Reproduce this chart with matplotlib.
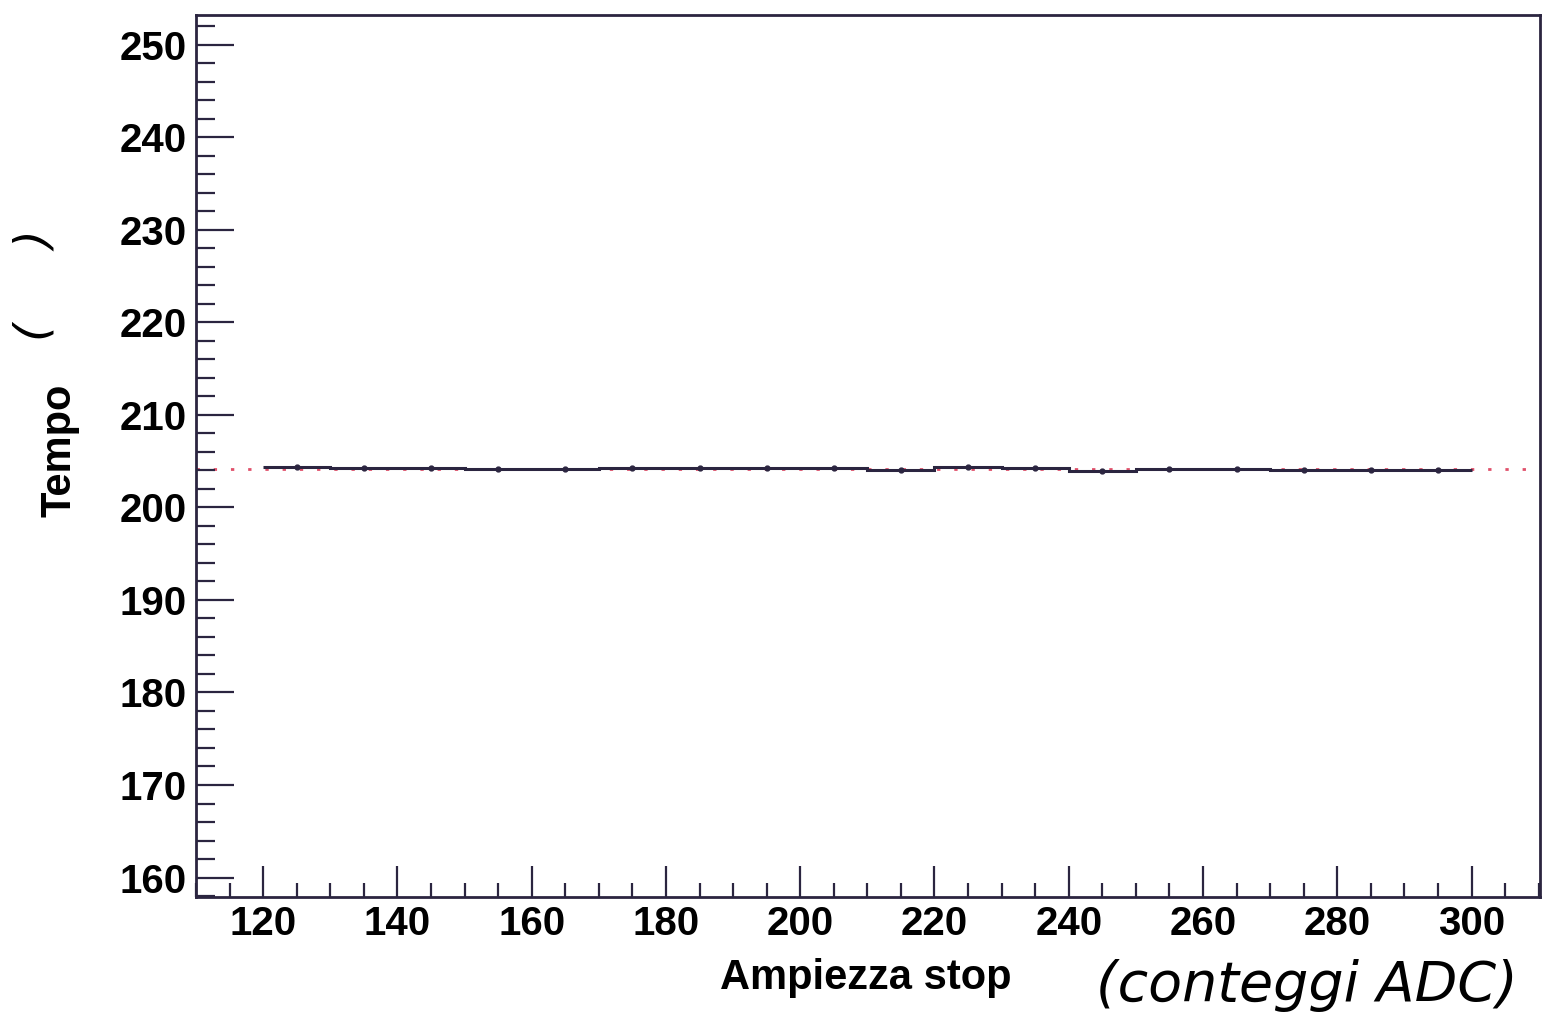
import matplotlib
matplotlib.use("Agg")
import matplotlib.pyplot as plt
from matplotlib.ticker import MultipleLocator
import numpy as np

# Data
bin_edges = [120, 130, 140, 150, 160, 170, 180, 190, 200, 210, 220, 230,
             240, 250, 260, 270, 280, 290, 300]
bin_values = [204.35, 204.2, 204.2, 204.15, 204.1, 204.2, 204.2, 204.25, 204.25,
              204.0, 204.4, 204.25, 203.95, 204.15, 204.15, 204.0, 204.05, 204.0]
bin_errors = [0.12, 0.1, 0.1, 0.1, 0.1, 0.1, 0.1, 0.1, 0.1,
              0.12, 0.12, 0.12, 0.15, 0.15, 0.15, 0.15, 0.15, 0.18]
fit_value = 204.12
x_label = "Ampiezza stop"
y_label = "Tempo"

plt.rcParams['font.family'] = ['Liberation Sans', 'DejaVu Sans']

fig = plt.figure(figsize=(15.47, 10.29), dpi=100)
ax = fig.add_axes([0.1267, 0.1283, 0.9955 - 0.1267, 0.9854 - 0.1283])

edges = np.array(bin_edges, dtype=float)
vals = np.array(bin_values)
errs = np.array(bin_errors)
centers = 0.5 * (edges[:-1] + edges[1:])

line_col = '#2b2540'
# fit line (dotted red) across the full range
ax.plot([110, 310], [fit_value, fit_value], linestyle=(0, (1.2, 5)), color='#e0506a',
        linewidth=2.0, zorder=1)
# histogram step
ax.stairs(vals, edges, baseline=None, color=line_col, linewidth=2.2, zorder=3)
ax.errorbar(centers, vals, yerr=errs, fmt='o', markersize=3.5, color=line_col,
            ecolor=line_col, elinewidth=2, capsize=0, zorder=4)

ax.set_xlim(110, 310.2)
ax.set_ylim(157.9, 253.2)

ax.xaxis.set_major_locator(MultipleLocator(20))
ax.xaxis.set_minor_locator(MultipleLocator(5))
ax.yaxis.set_major_locator(MultipleLocator(10))
ax.yaxis.set_minor_locator(MultipleLocator(2))

ax.tick_params(axis='y', which='major', direction='in', length=27, width=1.6,
               labelsize=29, pad=7, color='#2b2540', right=False)
ax.tick_params(axis='y', which='minor', direction='in', length=14, width=1.6,
               color='#2b2540', right=False)
ax.tick_params(axis='x', which='major', direction='in', length=22, width=1.6,
               labelsize=29, pad=6, color='#2b2540', top=False)
ax.tick_params(axis='x', which='minor', direction='in', length=10, width=1.6,
               color='#2b2540', top=False)
for lbl in ax.get_xticklabels() + ax.get_yticklabels():
    lbl.set_fontweight('bold')

for s in ax.spines.values():
    s.set_linewidth(2)
    s.set_color('#2b2540')

fig.text(866 / 1547, 1 - 978 / 1029, x_label, fontsize=30, fontweight='bold',
         ha='center', va='center')
fig.text(60 / 1547, 1 - 450 / 1029, y_label, fontsize=30, fontweight='bold',
         rotation=90, ha='center', va='center')

# handwritten annotations
fig.text(35 / 1547, 1 - 285 / 1029, "(     )", fontsize=34, rotation=90,
         ha='center', va='center', family='DejaVu Sans', fontstyle='italic')
fig.text(1307 / 1547, 1 - 985 / 1029, "(conteggi ADC)", fontsize=40,
         ha='center', va='center', family='DejaVu Sans', fontstyle='italic')

fig.savefig("out.png", dpi=100, facecolor='white')
